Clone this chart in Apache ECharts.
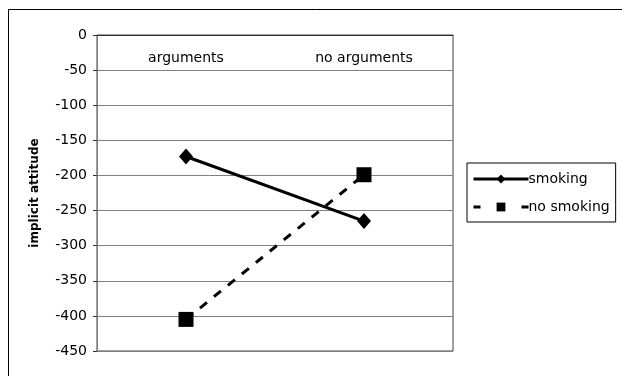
<!DOCTYPE html>
<html>
<head>
<meta charset="utf-8">
<script src="https://cdn.jsdelivr.net/npm/echarts@6/dist/echarts.min.js"></script>
<style>
  html, body { margin: 0; padding: 0; background: #fff; }
  #chart { width: 622px; height: 376px; }
</style>
</head>
<body>
<div id="chart"></div>
<script>
// values
const categories = ['arguments', 'no arguments'];
const smoking = [-173, -265];
const noSmoking = [-405, -199];

const chart = echarts.init(document.getElementById('chart'), null, { renderer: 'canvas' });

const font = 'DejaVu Sans, Verdana, sans-serif';

chart.setOption({
  animation: false,
  backgroundColor: '#fff',
  textStyle: { fontFamily: font },
  graphic: [{
    type: 'rect',
    silent: true,
    shape: { x: 8.5, y: 9.5, width: 700, height: 500 },
    style: { fill: 'none', stroke: '#000', lineWidth: 1 }
  }],
  grid: {
    left: 97, right: 169, top: 35, bottom: 25,
    show: true, borderColor: '#404040', borderWidth: 1, backgroundColor: 'transparent'
  },
  legend: {
    orient: 'vertical',
    left: 467, top: 163,
    width: 148,
    padding: [8, 6, 7, 5],
    itemGap: 12,
    itemWidth: 55,
    itemHeight: 11,
    borderColor: '#000',
    borderWidth: 1,
    textStyle: { fontSize: 14, lineHeight: 16, color: '#000', fontFamily: font, padding: [0, 0, 0, -5] },
    data: [
      { name: 'smoking', lineStyle: { width: 3 } },
      { name: 'no smoking', lineStyle: { width: 3, type: [7, 41] } }
    ]
  },
  xAxis: {
    type: 'category',
    data: categories,
    position: 'top',
    boundaryGap: true,
    axisLine: { lineStyle: { color: '#333', width: 1 } },
    axisTick: { inside: true, length: 4, lineStyle: { color: '#333' } },
    axisLabel: { inside: true, margin: 16, fontSize: 14, color: '#000', fontFamily: font }
  },
  yAxis: {
    type: 'value',
    min: -450, max: 0, interval: 50,
    name: 'implicit attitude',
    nameLocation: 'middle',
    nameGap: 56,
    nameRotate: 90,
    nameTextStyle: { fontSize: 12, fontWeight: 'bold', color: '#000', fontFamily: font },
    axisLine: { show: true, lineStyle: { color: '#808080', width: 1 } },
    axisTick: { show: true, length: 4, lineStyle: { color: '#333' } },
    axisLabel: { margin: 10, fontSize: 14, color: '#000', fontFamily: font },
    splitLine: { lineStyle: { color: '#808080', width: 1 } }
  },
  series: [
    {
      name: 'smoking',
      type: 'line',
      data: smoking,
      symbol: 'diamond',
      symbolSize: [14, 16],
      color: '#000',
      lineStyle: { color: '#000', width: 3 },
      itemStyle: { color: '#000' }
    },
    {
      name: 'no smoking',
      type: 'line',
      data: noSmoking,
      symbol: 'rect',
      symbolSize: 15,
      color: '#000',
      lineStyle: { color: '#000', width: 3, type: [9, 9] },
      itemStyle: { color: '#000' }
    }
  ]
});
</script>
</body>
</html>
